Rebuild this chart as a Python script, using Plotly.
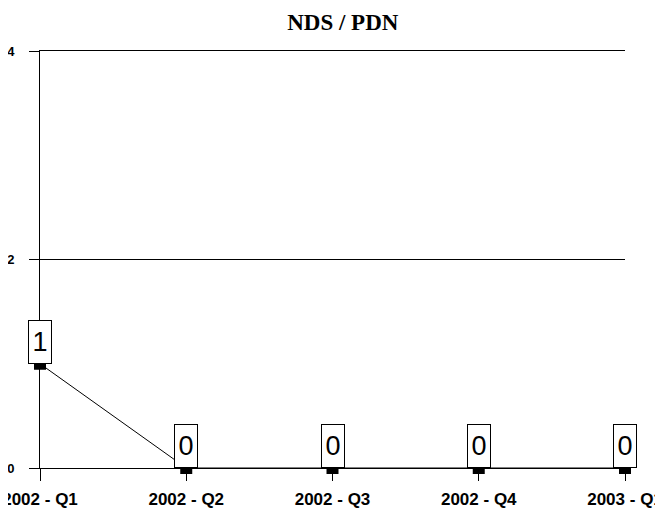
import plotly.graph_objects as go

categories = ["2002 - Q1", "2002 - Q2", "2002 - Q3", "2002 - Q4", "2003 - Q1"]
values = [1, 0, 0, 0, 0]
y_ticks = [0, 2, 4]
title_text = "NDS / PDN"

fig = go.Figure()
fig.add_trace(go.Scatter(
    x=categories, y=values, mode="lines+markers",
    line=dict(color="black", width=1),
    marker=dict(symbol="square", size=12, color="black"),
    cliponaxis=False, showlegend=False, hoverinfo="skip",
))

for c, v in zip(categories, values):
    fig.add_annotation(
        x=c, y=v, xref="x", yref="y", text=str(v), showarrow=False,
        yanchor="bottom", xanchor="center",
        font=dict(family="Liberation Sans", size=27, color="black"),
        bgcolor="white", bordercolor="black", borderwidth=1, borderpad=0,
        width=22, height=42,
    )

fig.update_layout(
    width=663, height=514,
    margin=dict(l=32, r=46, t=43, b=54),
    paper_bgcolor="white", plot_bgcolor="white",
    title=dict(text="<b>" + title_text + "</b>", x=0.505, xanchor="center",
               y=1 - 14 / 514, yanchor="middle", yref="container",
               font=dict(family="Liberation Serif", size=23, color="black")),
)
fig.update_xaxes(
    type="category", categoryorder="array", categoryarray=categories,
    range=[0, len(categories) - 1], automargin=False,
    tickvals=categories, ticktext=["<b>" + c + "</b>" for c in categories],
    ticks="outside", ticklen=12, tickcolor="black", tickwidth=1,
    tickfont=dict(family="Liberation Sans", size=17, color="black"),
    ticklabelstandoff=4,
    showgrid=False, showline=True, mirror=True, linecolor="black", linewidth=1,
    zeroline=False,
)
fig.update_yaxes(
    range=[0, 4], tickvals=y_ticks, ticktext=["<b>%d</b>" % t for t in y_ticks],
    automargin=False,
    ticks="outside", ticklen=10, tickcolor="black", tickwidth=1,
    tickfont=dict(family="Liberation Sans", size=13, color="black"),
    ticklabelstandoff=12,
    showgrid=True, gridcolor="black", gridwidth=1,
    showline=True, linecolor="black", linewidth=1,
    zeroline=True, zerolinecolor="black", zerolinewidth=1,
)

fig.write_html("out.html")
